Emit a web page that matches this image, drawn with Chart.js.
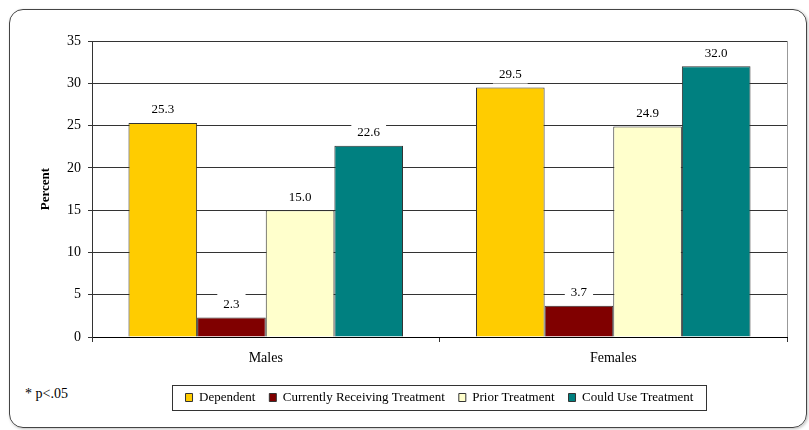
<!DOCTYPE html>
<html lang="en">

<head>
    <meta charset="UTF-8">
    <title>Percent by Gender</title>
    <script src="https://cdn.jsdelivr.net/npm/chart.js"></script>
    <style>
        body {
            margin: 0;
            background-color: #ffffff;
            font-family: 'Liberation Serif', serif;
        }

        .frame {
            position: absolute;
            left: 9px;
            top: 9px;
            width: 796px;
            height: 417px;
            border: 1px solid #444;
            border-radius: 14px;
            box-shadow: 1px 1px 3px rgba(0, 0, 0, 0.25);
        }

        .note {
            position: absolute;
            left: 25px;
            top: 386px;
            font-size: 14px;
            color: #000;
        }

        .chart-box {
            position: absolute;
            left: 0;
            top: 0;
            width: 809px;
            height: 430px;
        }
    </style>
</head>

<body>
    <div class="frame"></div>
    <div class="note">* p&lt;.05</div>
    <div class="chart-box">
        <canvas id="barChart"></canvas>
    </div>

    <script>
        const categories = ['Males', 'Females'];
        const seriesNames = ['Dependent', 'Currently Receiving Treatment', 'Prior Treatment', 'Could Use Treatment'];
        const dependent = [25.3, 29.5];
        const currentlyReceiving = [2.3, 3.7];
        const priorTreatment = [15.0, 24.9];
        const couldUse = [22.6, 32.0];
        const yTicks = [0, 5, 10, 15, 20, 25, 30, 35];

        const colors = ['#FFCC00', '#800000', '#FFFFCC', '#008080'];
        const seriesValues = [dependent, currentlyReceiving, priorTreatment, couldUse];

        // value labels with a white box behind them
        const valueLabels = {
            id: 'valueLabels',
            afterDatasetsDraw(chart) {
                const ctx = chart.ctx;
                ctx.save();
                ctx.font = '13px "Liberation Serif"';
                ctx.textAlign = 'center';
                ctx.textBaseline = 'middle';
                chart.data.datasets.forEach((ds, i) => {
                    chart.getDatasetMeta(i).data.forEach((bar, j) => {
                        const txt = ds.data[j].toFixed(1);
                        const w = ctx.measureText(txt).width;
                        const y = bar.y - 13;
                        ctx.fillStyle = '#ffffff';
                        ctx.fillRect(bar.x - w / 2 - 6, y - 11, w + 12, 20);
                        ctx.fillStyle = '#000000';
                        ctx.fillText(txt, bar.x, y);
                    });
                });
                ctx.restore();
            }
        };

        // right edge of plot, legend centred under plot, box round legend
        const extras = {
            id: 'extras',
            afterLayout(chart) {
                const a = chart.chartArea;
                const lg = chart.legend;
                const shift = (a.left + a.right) / 2 - (lg.left + lg.right) / 2;
                lg.left += shift;
                lg.right += shift;
            },
            beforeDatasetsDraw(chart) {
                const ctx = chart.ctx;
                const a = chart.chartArea;
                ctx.save();
                ctx.strokeStyle = '#999';
                ctx.lineWidth = 1;
                ctx.beginPath();
                ctx.moveTo(Math.round(a.right) + 0.5, a.top);
                ctx.lineTo(Math.round(a.right) + 0.5, a.bottom);
                ctx.stroke();
                ctx.restore();
            },
            afterDraw(chart) {
                const boxes = chart.legend.legendHitBoxes;
                if (!boxes || !boxes.length) return;
                const left = Math.min(...boxes.map(b => b.left));
                const right = Math.max(...boxes.map(b => b.left + b.width));
                const top = Math.min(...boxes.map(b => b.top));
                const bottom = Math.max(...boxes.map(b => b.top + b.height));
                const ctx = chart.ctx;
                ctx.save();
                ctx.strokeStyle = '#333';
                ctx.lineWidth = 1;
                ctx.strokeRect(Math.round(left - 14) + 0.5, Math.round(top - 6) + 0.5,
                    Math.round(right - left + 26), Math.round(bottom - top + 12));
                ctx.restore();
            }
        };

        function renderBarChart() {
            const ctx = document.getElementById('barChart').getContext('2d');
            new Chart(ctx, {
                type: 'bar',
                data: {
                    labels: categories,
                    datasets: seriesNames.map((name, i) => ({
                        label: name,
                        data: seriesValues[i],
                        backgroundColor: colors[i],
                        borderColor: '#333',
                        borderWidth: 1,
                        barPercentage: 1.0,
                        categoryPercentage: 0.79
                    }))
                },
                options: {
                    responsive: true,
                    maintainAspectRatio: false,
                    animation: false,
                    layout: {
                        padding: { left: 34, right: 22, top: 41, bottom: 16 }
                    },
                    plugins: {
                        legend: {
                            position: 'bottom',
                            labels: {
                                boxWidth: 7,
                                boxHeight: 8,
                                padding: 14,
                                color: '#000',
                                font: { family: 'Liberation Serif', size: 13 }
                            }
                        },
                        tooltip: { enabled: false }
                    },
                    scales: {
                        x: {
                            afterFit(scale) { scale.height = 40; },
                            grid: {
                                drawOnChartArea: false,
                                drawTicks: true,
                                tickLength: 5,
                                offset: true,
                                color: '#333'
                            },
                            border: { color: '#000' },
                            ticks: {
                                color: '#000',
                                padding: 8,
                                font: { family: 'Liberation Serif', size: 14 }
                            }
                        },
                        y: {
                            min: 0,
                            max: 35,
                            afterFit(scale) { scale.width = 58; },
                            afterBuildTicks(scale) {
                                scale.ticks = yTicks.map(v => ({ value: v }));
                            },
                            grid: {
                                color: '#333',
                                tickLength: 4
                            },
                            border: { color: '#333' },
                            ticks: {
                                color: '#000',
                                padding: 7,
                                font: { family: 'Liberation Serif', size: 14 }
                            },
                            title: {
                                display: true,
                                text: 'Percent',
                                color: '#000',
                                padding: { top: 4, bottom: 4 },
                                font: { family: 'Liberation Serif', size: 13, weight: 'bold' }
                            }
                        }
                    }
                },
                plugins: [valueLabels, extras]
            });
        }

        document.addEventListener("DOMContentLoaded", renderBarChart);
    </script>

</body>

</html>
